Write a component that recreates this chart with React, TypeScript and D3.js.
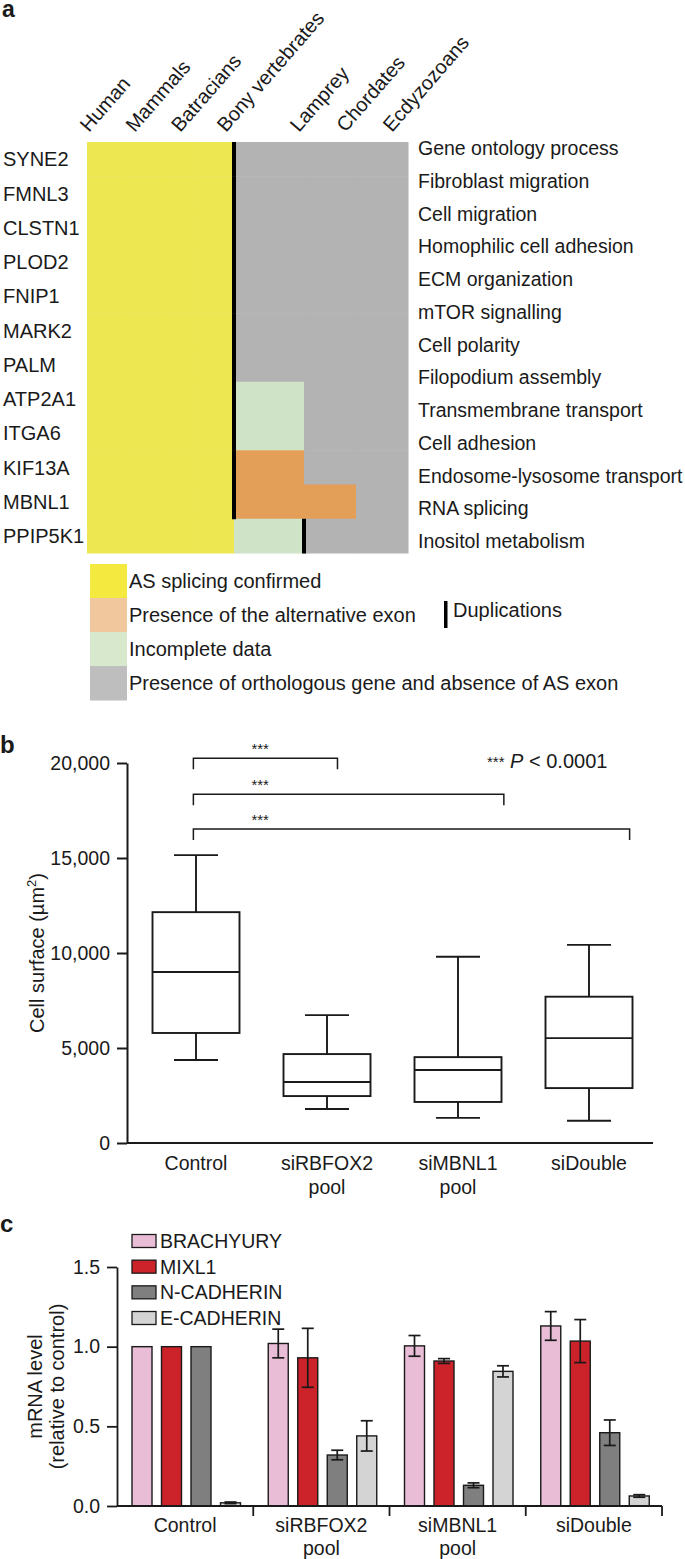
import { useEffect, useRef } from 'react';
import * as d3 from 'd3';

// ---- panel a data ----
const species = ['Human', 'Mammals', 'Batracians', 'Bony vertebrates', 'Lamprey', 'Chordates', 'Ecdyzozoans'];
const genes = ['SYNE2', 'FMNL3', 'CLSTN1', 'PLOD2', 'FNIP1', 'MARK2', 'PALM', 'ATP2A1', 'ITGA6', 'KIF13A', 'MBNL1', 'PPIP5K1'];
const processes = [
  'Gene ontology process',
  'Fibroblast migration',
  'Cell migration',
  'Homophilic cell adhesion',
  'ECM organization',
  'mTOR signalling',
  'Cell polarity',
  'Filopodium assembly',
  'Transmembrane transport',
  'Cell adhesion',
  'Endosome-lysosome transport',
  'RNA splicing',
  'Inositol metabolism'
];
// one letter per species column: Y confirmed, O alt exon present, G incomplete, X ortholog w/o AS exon
const geneStatus = [
  'YYYYXXX', 'YYYYXXX', 'YYYYXXX', 'YYYYXXX', 'YYYYXXX', 'YYYYXXX', 'YYYYXXX',
  'YYYYGXX', 'YYYYGXX', 'YYYYOXX', 'YYYYOOX', 'YYYYGXX'
];
// species boundary after which a duplication occurred
const duplications = [4, 4, 4, 4, 4, 4, 4, 4, 4, 4, 4, 5];
const statusKeys = ['Y', 'O', 'G', 'X'];
const statusLabels = [
  'AS splicing confirmed',
  'Presence of the alternative exon',
  'Incomplete data',
  'Presence of orthologous gene and absence of AS exon'
];
const cellColors = ['#ede751', '#e39e58', '#cfe3c6', '#b3b3b3'];
const legendColors = ['#f4e93f', '#f1c89e', '#d8e8cc', '#bebebe'];

// ---- panel b data ----
const groupLabels = [['Control'], ['siRBFOX2', 'pool'], ['siMBNL1', 'pool'], ['siDouble']];
const boxMin = [4370, 1790, 1320, 1170];
const boxQ1 = [5790, 2470, 2160, 2890];
const boxMedian = [9000, 3210, 3840, 5520];
const boxQ3 = [12150, 4680, 4520, 7700];
const boxMax = [15150, 6730, 9800, 10430];
const ticksB = [0, 5000, 10000, 15000, 20000];
const bracketFrom = [-0.02, -0.02, -0.02];
const bracketTo = [1.08, 2.35, 3.31];
const bracketLevel = [20250, 18360, 16520];
const bracketStarsAt = [0.49, 0.49, 0.49];

// ---- panel c data ----
const markers = ['BRACHYURY', 'MIXL1', 'N-CADHERIN', 'E-CADHERIN'];
const markerColors = ['#e9bdd6', '#cc2229', '#7f7f7f', '#d4d4d4'];
const brachyury = [1.0, 1.02, 1.005, 1.13];
const brachyuryErr = [0, 0.09, 0.065, 0.09];
const mixl1 = [1.0, 0.93, 0.91, 1.035];
const mixl1Err = [0, 0.185, 0.015, 0.135];
const nCadherin = [1.0, 0.32, 0.13, 0.46];
const nCadherinErr = [0, 0.03, 0.015, 0.08];
const eCadherin = [0.02, 0.44, 0.845, 0.063];
const eCadherinErr = [0.005, 0.095, 0.035, 0.008];
const ticksC = [0, 0.5, 1, 1.5];

const FONT = '"Liberation Sans", Arial, Helvetica, sans-serif';
const INK = '#1a1a1a';
const FS = 19.5;

type Svg = d3.Selection<SVGSVGElement, unknown, null, undefined>;

function drawPanelA(svg: Svg) {
  const g = svg.append('g');

  g.append('text').attr('x', 2).attr('y', 17).attr('font-size', 23).attr('font-weight', 'bold').text('a');

  const xCol = d3.scaleLinear().domain([0, 4, 5, 6, 7]).range([87, 234, 304, 356, 408]);
  const yRow = d3.scaleBand().domain(genes).range([142, 553]);
  const colorOf = d3.scaleOrdinal<string, string>().domain(statusKeys).range(cellColors);
  const legendColorOf = d3.scaleOrdinal<string, string>().domain(statusKeys).range(legendColors);

  const cells = genes.flatMap((gene, gi) =>
    species.map((sp, si) => ({ gene, si, status: geneStatus[gi][si] }))
  );

  g.append('g')
    .selectAll('rect')
    .data(cells)
    .join('rect')
    .attr('x', d => xCol(d.si))
    .attr('width', d => xCol(d.si + 1) - xCol(d.si) + 0.5)
    .attr('y', d => yRow(d.gene) as number)
    .attr('height', yRow.bandwidth() + 0.5)
    .attr('fill', d => colorOf(d.status));

  // duplication marks
  g.append('g')
    .selectAll('rect')
    .data(genes)
    .join('rect')
    .attr('x', (_, i) => xCol(duplications[i]) - 2)
    .attr('width', 4)
    .attr('y', d => yRow(d) as number)
    .attr('height', yRow.bandwidth() + 0.5)
    .attr('fill', '#000');

  g.append('g')
    .attr('font-size', 20)
    .selectAll('text')
    .data(genes)
    .join('text')
    .attr('x', 3)
    .attr('y', d => (yRow(d) as number) + yRow.bandwidth() / 2)
    .attr('dy', '0.36em')
    .text(d => d);

  const yProc = d3.scalePoint().domain(processes).range([148, 541]);
  g.append('g')
    .attr('font-size', FS)
    .selectAll('text')
    .data(processes)
    .join('text')
    .attr('x', 418)
    .attr('y', d => yProc(d) as number)
    .attr('dy', '0.36em')
    .text(d => d);

  const xLab = d3.scaleLinear().domain([0, 3, 4, 6]).range([89, 226, 299, 392]);
  g.append('g')
    .attr('font-size', 20)
    .selectAll('text')
    .data(species)
    .join('text')
    .attr('transform', (_, i) => `translate(${xLab(i)},133) rotate(-49)`)
    .text(d => d);

  // legend
  const ySw = d3.scaleBand().domain(statusKeys).range([564, 700]);
  const leg = g.append('g');
  leg.selectAll('rect')
    .data(statusKeys)
    .join('rect')
    .attr('x', 90)
    .attr('width', 37)
    .attr('y', d => ySw(d) as number)
    .attr('height', ySw.bandwidth() + 0.5)
    .attr('fill', d => legendColorOf(d));
  leg.selectAll('text')
    .data(statusKeys)
    .join('text')
    .attr('font-size', 20)
    .attr('x', 129)
    .attr('y', d => (ySw(d) as number) + ySw.bandwidth() / 2)
    .attr('dy', '0.36em')
    .text((_, i) => statusLabels[i]);

  leg.append('rect').attr('x', 444).attr('y', 601).attr('width', 3.5).attr('height', 27).attr('fill', '#000');
  leg.append('text').attr('x', 453).attr('y', 610).attr('dy', '0.36em').attr('font-size', 20).text('Duplications');
}

function drawPanelB(svg: Svg) {
  const g = svg.append('g');
  g.append('text').attr('x', 0).attr('y', 753).attr('font-size', 24).attr('font-weight', 'bold').text('b');

  const yB = d3.scaleLinear().domain([0, 20000]).range([1143, 763]);
  const xB = d3.scaleLinear().domain([-0.5, 3.5]).range([130.5, 654.5]);
  const axisX = 127;

  const axis = g.append('g')
    .attr('transform', `translate(${axisX},0)`)
    .call(
      d3.axisLeft(yB)
        .tickValues(ticksB)
        .tickFormat(d3.format(','))
        .tickSize(10)
        .tickSizeOuter(0)
        .tickPadding(7)
    );
  axis.selectAll('path, line').attr('stroke', INK).attr('stroke-width', 2);
  axis.selectAll('text').attr('font-size', FS).attr('font-family', FONT).attr('fill', INK);

  g.append('line')
    .attr('x1', axisX).attr('x2', 653)
    .attr('y1', yB(0)).attr('y2', yB(0))
    .attr('stroke', INK).attr('stroke-width', 2);

  const boxW = 87;
  const capW = 44;
  const boxes = groupLabels.map((_, i) => i);
  const bx = g.append('g').attr('stroke', INK).attr('stroke-width', 1.9).attr('fill', 'none');

  bx.selectAll('line.whisker')
    .data(boxes)
    .join('line')
    .attr('class', 'whisker')
    .attr('x1', i => xB(i)).attr('x2', i => xB(i))
    .attr('y1', i => yB(boxMin[i])).attr('y2', i => yB(boxMax[i]));
  bx.selectAll('line.capHi')
    .data(boxes)
    .join('line')
    .attr('class', 'capHi')
    .attr('x1', i => xB(i) - capW / 2).attr('x2', i => xB(i) + capW / 2)
    .attr('y1', i => yB(boxMax[i])).attr('y2', i => yB(boxMax[i]));
  bx.selectAll('line.capLo')
    .data(boxes)
    .join('line')
    .attr('class', 'capLo')
    .attr('x1', i => xB(i) - capW / 2).attr('x2', i => xB(i) + capW / 2)
    .attr('y1', i => yB(boxMin[i])).attr('y2', i => yB(boxMin[i]));
  bx.selectAll('rect')
    .data(boxes)
    .join('rect')
    .attr('x', i => xB(i) - boxW / 2)
    .attr('width', boxW)
    .attr('y', i => yB(boxQ3[i]))
    .attr('height', i => yB(boxQ1[i]) - yB(boxQ3[i]))
    .attr('fill', '#fff');
  bx.selectAll('line.median')
    .data(boxes)
    .join('line')
    .attr('class', 'median')
    .attr('x1', i => xB(i) - boxW / 2).attr('x2', i => xB(i) + boxW / 2)
    .attr('y1', i => yB(boxMedian[i])).attr('y2', i => yB(boxMedian[i]));

  // significance brackets
  const br = g.append('g');
  bracketLevel.forEach((lvl, i) => {
    const y = yB(lvl);
    const x1 = xB(bracketFrom[i]);
    const x2 = xB(bracketTo[i]);
    br.append('path')
      .attr('d', `M${x1},${y + 11}V${y}H${x2}V${y + 11}`)
      .attr('fill', 'none')
      .attr('stroke', INK)
      .attr('stroke-width', 1.5);
    br.append('text')
      .attr('x', xB(bracketStarsAt[i]))
      .attr('y', y - 4)
      .attr('text-anchor', 'middle')
      .attr('font-size', 15)
      .text('***');
  });

  const pt = g.append('text').attr('x', 487).attr('y', 768).attr('font-size', 20);
  pt.append('tspan').attr('font-size', 15).attr('dy', -1).text('***');
  pt.append('tspan').attr('dy', 1).text(' ');
  pt.append('tspan').attr('font-style', 'italic').text('P');
  pt.append('tspan').text(' < 0.0001');

  const title = g.append('text')
    .attr('transform', `translate(44,${(yB(0) + yB(20000)) / 2}) rotate(-90)`)
    .attr('text-anchor', 'middle')
    .attr('font-size', 20);
  title.append('tspan').text('Cell surface (µm');
  title.append('tspan').attr('font-size', 13).attr('dy', -8).text('2');
  title.append('tspan').attr('dy', 8).text(')');

  g.append('g')
    .attr('font-size', FS)
    .attr('text-anchor', 'middle')
    .selectAll('text')
    .data(groupLabels)
    .join('text')
    .attr('x', (_, i) => xB(i))
    .attr('y', 1170)
    .each(function (lines) {
      d3.select(this)
        .selectAll('tspan')
        .data(lines)
        .join('tspan')
        .attr('x', d3.select(this).attr('x'))
        .attr('dy', (_, k) => (k === 0 ? 0 : 24))
        .text(d => d);
    });
}

function drawPanelC(svg: Svg) {
  const g = svg.append('g');
  g.append('text').attr('x', 0).attr('y', 1232).attr('font-size', 24).attr('font-weight', 'bold').text('c');

  const groups = groupLabels.map(d => d.join(' '));
  const yC = d3.scaleLinear().domain([0, 1.5]).range([1506, 1267]);
  const x0 = d3.scaleBand().domain(groups).range([117, 662]);
  const x1 = d3.scaleBand().domain(markers).range([15, 123.5]).paddingInner(0.322);
  const color = d3.scaleOrdinal<string, string>().domain(markers).range(markerColors);
  const values = [brachyury, mixl1, nCadherin, eCadherin];
  const errors = [brachyuryErr, mixl1Err, nCadherinErr, eCadherinErr];

  const bars = groups.flatMap((grp, gi) =>
    markers.map((m, mi) => ({ grp, m, v: values[mi][gi], e: errors[mi][gi] }))
  );

  const axisX = 117;
  const axis = g.append('g')
    .attr('transform', `translate(${axisX},0)`)
    .call(
      d3.axisLeft(yC)
        .tickValues(ticksC)
        .tickFormat(d3.format('.1f'))
        .tickSize(10)
        .tickSizeOuter(0)
        .tickPadding(7)
    );
  axis.selectAll('path, line').attr('stroke', INK).attr('stroke-width', 1.8);
  axis.selectAll('text').attr('font-size', FS).attr('font-family', FONT).attr('fill', INK);

  g.append('g')
    .selectAll('rect')
    .data(bars)
    .join('rect')
    .attr('x', d => (x0(d.grp) as number) + (x1(d.m) as number))
    .attr('width', x1.bandwidth())
    .attr('y', d => yC(d.v))
    .attr('height', d => yC(0) - yC(d.v))
    .attr('fill', d => color(d.m))
    .attr('stroke', INK)
    .attr('stroke-width', 1.4);

  const capW = 12;
  const err = g.append('g').attr('stroke', INK).attr('stroke-width', 1.7);
  bars.filter(d => d.e > 0).forEach(d => {
    const cx = (x0(d.grp) as number) + (x1(d.m) as number) + x1.bandwidth() / 2;
    const yHi = yC(d.v + d.e);
    const yLo = yC(d.v - d.e);
    err.append('line').attr('x1', cx).attr('x2', cx).attr('y1', yHi).attr('y2', yLo);
    err.append('line').attr('x1', cx - capW / 2).attr('x2', cx + capW / 2).attr('y1', yHi).attr('y2', yHi);
    err.append('line').attr('x1', cx - capW / 2).attr('x2', cx + capW / 2).attr('y1', yLo).attr('y2', yLo);
  });

  // x axis with group separators
  g.append('line')
    .attr('x1', axisX).attr('x2', 662)
    .attr('y1', yC(0)).attr('y2', yC(0))
    .attr('stroke', INK).attr('stroke-width', 1.8);
  g.append('g')
    .selectAll('line')
    .data(groups)
    .join('line')
    .attr('x1', d => (x0(d) as number) + x0.bandwidth())
    .attr('x2', d => (x0(d) as number) + x0.bandwidth())
    .attr('y1', yC(0))
    .attr('y2', yC(0) + 10)
    .attr('stroke', INK)
    .attr('stroke-width', 1.8);

  g.append('g')
    .attr('font-size', FS)
    .attr('text-anchor', 'middle')
    .selectAll('text')
    .data(groupLabels)
    .join('text')
    .attr('x', (_, i) => (x0(groups[i]) as number) + x0.bandwidth() / 2)
    .attr('y', 1532)
    .each(function (lines) {
      d3.select(this)
        .selectAll('tspan')
        .data(lines)
        .join('tspan')
        .attr('x', d3.select(this).attr('x'))
        .attr('dy', (_, k) => (k === 0 ? 0 : 23))
        .text(d => d);
    });

  // legend
  const yLeg = d3.scalePoint().domain(markers).range([1241, 1318]);
  const leg = g.append('g');
  leg.selectAll('rect')
    .data(markers)
    .join('rect')
    .attr('x', 132)
    .attr('y', d => (yLeg(d) as number) - 6.5)
    .attr('width', 24)
    .attr('height', 13)
    .attr('fill', d => color(d))
    .attr('stroke', INK)
    .attr('stroke-width', 1.3);
  leg.selectAll('text')
    .data(markers)
    .join('text')
    .attr('x', 160)
    .attr('y', d => yLeg(d) as number)
    .attr('dy', '0.36em')
    .attr('font-size', FS)
    .text(d => d);

  const title = g.append('text')
    .attr('transform', `translate(0,${(yC(0) + yC(1.5)) / 2}) rotate(-90)`)
    .attr('text-anchor', 'middle')
    .attr('font-size', 20);
  title.append('tspan').attr('x', 0).attr('y', 42).text('mRNA level');
  title.append('tspan').attr('x', 0).attr('y', 64).text('(relative to control)');
}

export default function App() {
  const ref = useRef<SVGSVGElement>(null);

  useEffect(() => {
    if (!ref.current) return;
    const svg = d3.select(ref.current);
    svg.selectAll('*').remove();
    drawPanelA(svg);
    drawPanelB(svg);
    drawPanelC(svg);
  }, []);

  return (
    <svg
      ref={ref}
      width={685}
      height={1559}
      style={{ position: 'absolute', left: 0, top: 0, background: '#fff', fontFamily: FONT }}
      fill={INK}
    />
  );
}
